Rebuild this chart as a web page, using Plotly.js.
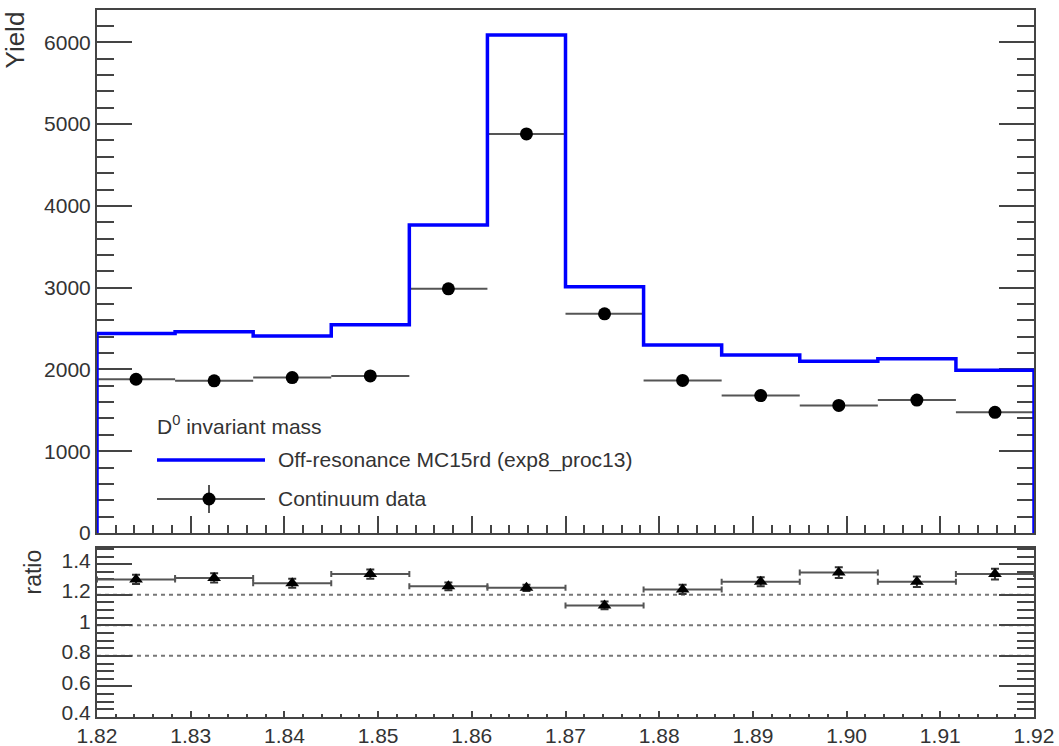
<!DOCTYPE html>
<html>
<head>
<meta charset="utf-8">
<script src="https://cdn.plot.ly/plotly-3.0.1.min.js"></script>
<style>
  html, body { margin: 0; padding: 0; background: #ffffff; }
  #chart { width: 1059px; height: 746px; }
</style>
</head>
<body>
<div id="chart"></div>
<script>
// ---- data ----
const binEdges   = [1.82, 1.828333, 1.836667, 1.845, 1.853333, 1.861667, 1.87, 1.878333, 1.886667, 1.895, 1.903333, 1.911667, 1.92];
const binCenters = [1.824167, 1.8325, 1.840833, 1.849167, 1.8575, 1.865833, 1.874167, 1.8825, 1.890833, 1.899167, 1.9075, 1.915833];
const halfWidth  = [0.004167, 0.004167, 0.004167, 0.004167, 0.004167, 0.004167, 0.004167, 0.004167, 0.004167, 0.004167, 0.004167, 0.004167];
const mcYield    = [2440, 2460, 2410, 2545, 3765, 6090, 3010, 2300, 2175, 2100, 2130, 1990];
const dataYield  = [1880, 1860, 1900, 1920, 2985, 4880, 2680, 1865, 1680, 1560, 1625, 1475];
const ratioVals  = [1.30, 1.31, 1.275, 1.335, 1.255, 1.245, 1.13, 1.235, 1.285, 1.345, 1.285, 1.335];
const ratioErr   = [0.03, 0.03, 0.03, 0.03, 0.025, 0.02, 0.025, 0.03, 0.03, 0.035, 0.035, 0.035];
const refLines   = [0.8, 1.0, 1.2];
const xTickVals  = [1.82, 1.83, 1.84, 1.85, 1.86, 1.87, 1.88, 1.89, 1.90, 1.91, 1.92];
const rTickVals  = [0.4, 0.6, 0.8, 1.0, 1.2, 1.4];
const rTickText  = ['0.4', '0.6', '0.8', '1', '1.2', '1.4'];

const legendHeader = 'D<sup>0</sup> invariant mass';
const mcName   = 'Off-resonance MC15rd (exp8_proc13)';
const dataName = 'Continuum data';

// histogram outline (step), starting and ending at zero like ROOT
const stepX = [binEdges[0]].concat(binEdges.slice(0, 12), [binEdges[12], binEdges[12]]);
const stepY = [0].concat(mcYield, [mcYield[11], 0]);

const FONT = 'Liberation Sans, Arial, Helvetica, sans-serif';
const TXT = '#333333';
const AX = '#444444';

const traces = [
  {
    type: 'scatter', mode: 'markers', name: dataName,
    x: binCenters, y: dataYield, xaxis: 'x', yaxis: 'y',
    marker: { symbol: 'circle', size: 13, color: '#000000' },
    error_x: { type: 'data', array: halfWidth, visible: true, color: '#555555', thickness: 2, width: 0 },
    showlegend: false, hoverinfo: 'x+y'
  },
  {
    type: 'scatter', mode: 'lines', name: mcName,
    x: stepX, y: stepY, xaxis: 'x', yaxis: 'y',
    line: { shape: 'hv', color: '#0000ff', width: 3.5 },
    showlegend: false, hoverinfo: 'x+y'
  },
  {
    type: 'scatter', mode: 'markers', name: 'ratio',
    x: binCenters, y: ratioVals, xaxis: 'x2', yaxis: 'y2',
    marker: { symbol: 'triangle-up', size: 12, color: '#000000' },
    error_x: { type: 'data', array: halfWidth, visible: true, color: '#555555', thickness: 2, width: 3 },
    error_y: { type: 'data', array: ratioErr, visible: true, color: '#333333', thickness: 2, width: 4 },
    showlegend: false, hoverinfo: 'x+y'
  }
];

const shapes = [];
refLines.forEach(v => shapes.push({
  type: 'line', xref: 'x2 domain', yref: 'y2', x0: 0, x1: 1, y0: v, y1: v,
  line: { color: '#777777', width: 2, dash: '4px,4px' }, layer: 'below'
}));

// legend drawn by hand (ROOT-style long samples)
function px(xp) { return (xp - 97) / 937; }
function py(yp) { return (717 - yp) / 707; }
shapes.push({ type: 'line', xref: 'paper', yref: 'paper', x0: px(157), x1: px(265), y0: py(460), y1: py(460),
  line: { color: '#0000ff', width: 3.5 } });
shapes.push({ type: 'line', xref: 'paper', yref: 'paper', x0: px(157), x1: px(265), y0: py(499), y1: py(499),
  line: { color: '#555555', width: 2 } });
shapes.push({ type: 'line', xref: 'paper', yref: 'paper', x0: px(209), x1: px(209), y0: py(485), y1: py(513),
  line: { color: '#555555', width: 2 } });
shapes.push({ type: 'circle', xref: 'paper', yref: 'paper', x0: px(202.5), x1: px(215.5), y0: py(492.5), y1: py(505.5),
  fillcolor: '#000000', line: { color: '#000000', width: 0 } });

const annotations = [
  { text: legendHeader, xref: 'paper', yref: 'paper', x: px(155), y: py(425), xanchor: 'left', yanchor: 'middle',
    showarrow: false, font: { family: FONT, size: 21, color: TXT } },
  { text: mcName, xref: 'paper', yref: 'paper', x: px(276), y: py(460), xanchor: 'left', yanchor: 'middle',
    showarrow: false, font: { family: FONT, size: 21, color: TXT } },
  { text: dataName, xref: 'paper', yref: 'paper', x: px(276), y: py(498), xanchor: 'left', yanchor: 'middle',
    showarrow: false, font: { family: FONT, size: 21, color: TXT } },
  { text: 'Yield', xref: 'paper', yref: 'paper', x: px(14), y: 1.0, xanchor: 'center', yanchor: 'top',
    textangle: -90, showarrow: false, font: { family: FONT, size: 26, color: TXT } },
  { text: 'ratio', xref: 'paper', yref: 'paper', x: px(32), y: py(548), xanchor: 'center', yanchor: 'top',
    textangle: -90, showarrow: false, font: { family: FONT, size: 23, color: TXT } }
];

const layout = {
  width: 1059, height: 746,
  margin: { l: 97, r: 25, t: 10, b: 29 },
  paper_bgcolor: '#ffffff', plot_bgcolor: '#ffffff',
  showlegend: false,
  font: { family: FONT, color: TXT },
  xaxis: {
    domain: [0, 1], anchor: 'y', range: [1.82, 1.92], matches: 'x2',
    tickmode: 'array', tickvals: xTickVals, showticklabels: false,
    ticks: 'inside', ticklen: 17, tickwidth: 2, tickcolor: AX,
    minor: { dtick: 0.002, tick0: 1.82, ticks: 'inside', ticklen: 8, tickwidth: 2, tickcolor: AX },
    showline: true, linecolor: AX, linewidth: 2, mirror: true, showgrid: false, zeroline: false,
    layer: 'below traces'
  },
  yaxis: {
    domain: [0.2603, 1], anchor: 'x', range: [0, 6395],
    dtick: 1000, tick0: 0, ticks: 'inside', ticklen: 35, tickwidth: 2, tickcolor: AX,
    minor: { dtick: 200, ticks: 'inside', ticklen: 17, tickwidth: 2, tickcolor: AX },
    showline: true, linecolor: AX, linewidth: 2, mirror: 'ticks', showgrid: false, zeroline: false,
    tickfont: { family: FONT, size: 21, color: TXT }, layer: 'below traces'
  },
  xaxis2: {
    domain: [0, 1], anchor: 'y2', range: [1.82, 1.92],
    tickmode: 'array', tickvals: xTickVals, tickformat: '.2f',
    ticks: 'inside', ticklen: 6, tickwidth: 2, tickcolor: AX,
    minor: { dtick: 0.002, tick0: 1.82, ticks: 'inside', ticklen: 3, tickwidth: 2, tickcolor: AX },
    showline: true, linecolor: AX, linewidth: 2, mirror: true, showgrid: false, zeroline: false,
    ticklabelstandoff: -1,
    tickfont: { family: FONT, size: 21, color: TXT }, layer: 'below traces'
  },
  yaxis2: {
    domain: [0, 0.2395], anchor: 'x2', range: [0.4, 1.508],
    tickmode: 'array', tickvals: rTickVals, ticktext: rTickText,
    ticks: 'inside', ticklen: 35, tickwidth: 2, tickcolor: AX,
    minor: { dtick: 0.05, tick0: 0.4, ticks: 'inside', ticklen: 17, tickwidth: 2, tickcolor: AX },
    showline: true, linecolor: AX, linewidth: 2, mirror: 'ticks', showgrid: false, zeroline: false,
    ticklabelshift: -4,
    tickfont: { family: FONT, size: 21, color: TXT }, layer: 'below traces'
  },
  shapes: shapes,
  annotations: annotations
};

Plotly.newPlot('chart', traces, layout, { staticPlot: true, displayModeBar: false });
</script>
</body>
</html>
